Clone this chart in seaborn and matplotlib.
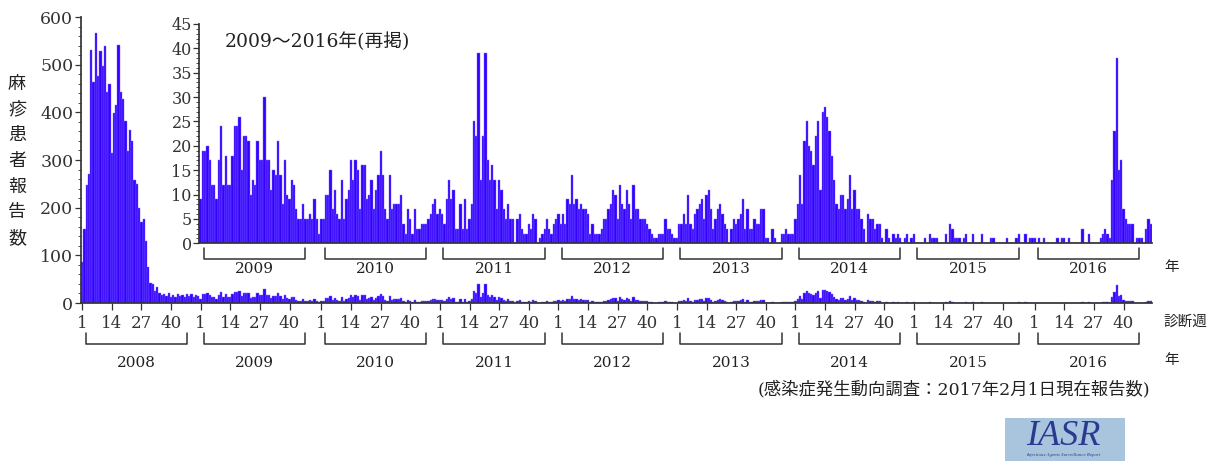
"""Weekly measles reports 2008-2016 with a 2009-2016 inset."""

import numpy as np
import pandas as pd
import matplotlib
matplotlib.use("Agg")
import matplotlib.pyplot as plt
from matplotlib.patches import Rectangle
from matplotlib.ticker import MultipleLocator
import seaborn as sns

# weekly report counts
years = [2008, 2009, 2010, 2011, 2012, 2013, 2014, 2015, 2016]
w2008 = [86, 156, 247, 270, 530, 464, 567, 476, 529, 498,
         540, 442, 460, 315, 399, 415, 542, 443, 429, 382,
         319, 362, 339, 259, 249, 199, 169, 176, 131, 75,
         43, 40, 25, 34, 20, 16, 18, 15, 20, 12,
         17, 12, 18, 14, 17, 12, 18, 14, 18, 13,
         16, 14]
w2009 = [9, 19, 19, 20, 17, 12, 12, 9, 17, 24,
         12, 18, 12, 12, 18, 24, 24, 26, 15, 22,
         22, 21, 10, 13, 12, 21, 17, 17, 30, 17,
         17, 11, 15, 14, 21, 14, 8, 17, 10, 9,
         13, 12, 7, 5, 5, 8, 5, 5, 6, 5,
         9, 5, 2]
w2010 = [5, 5, 10, 10, 15, 7, 11, 6, 5, 13,
         5, 9, 11, 17, 13, 17, 15, 7, 16, 16,
         9, 10, 13, 7, 11, 14, 19, 14, 7, 5,
         14, 7, 8, 8, 8, 10, 4, 2, 7, 5,
         2, 7, 3, 3, 4, 4, 4, 5, 6, 8,
         9, 6]
w2011 = [7, 6, 4, 9, 13, 9, 11, 3, 3, 8,
         3, 9, 3, 5, 8, 25, 22, 39, 13, 22,
         39, 17, 13, 16, 13, 7, 13, 11, 7, 5,
         8, 5, 5, 0, 5, 6, 3, 2, 2, 4,
         3, 6, 5, 0, 1, 2, 3, 5, 3, 2,
         4, 5]
w2012 = [6, 4, 6, 4, 9, 8, 14, 8, 9, 7,
         8, 7, 7, 6, 2, 4, 2, 2, 2, 3,
         5, 5, 7, 8, 11, 10, 5, 12, 8, 7,
         11, 8, 5, 12, 7, 7, 5, 5, 5, 4,
         3, 2, 1, 1, 2, 2, 2, 5, 3, 3,
         2, 1]
w2013 = [1, 4, 4, 6, 4, 10, 4, 3, 6, 7,
         8, 9, 5, 10, 11, 7, 3, 5, 7, 8,
         6, 4, 3, 0, 3, 5, 4, 5, 6, 9,
         3, 7, 3, 3, 5, 4, 4, 7, 7, 1,
         1, 0, 3, 1, 0, 0, 2, 2, 3, 2,
         2, 2]
w2014 = [5, 8, 14, 8, 21, 25, 20, 19, 16, 22,
         25, 11, 27, 28, 26, 23, 18, 13, 8, 7,
         10, 10, 7, 9, 14, 7, 11, 7, 7, 5,
         3, 0, 6, 5, 5, 3, 4, 4, 1, 0,
         3, 1, 0, 2, 1, 2, 1, 0, 1, 2,
         0, 1]
w2015 = [2, 0, 0, 0, 0, 1, 0, 2, 1, 1,
         1, 0, 0, 0, 2, 0, 4, 3, 1, 1,
         1, 0, 1, 2, 0, 0, 2, 0, 0, 0,
         2, 0, 0, 0, 1, 1, 0, 0, 0, 0,
         0, 1, 0, 0, 0, 1, 2, 0, 0, 2,
         0, 1, 1]
w2016 = [1, 0, 1, 0, 1, 0, 0, 0, 0, 0,
         1, 0, 1, 1, 0, 1, 0, 0, 0, 0,
         0, 3, 0, 0, 2, 0, 0, 0, 0, 1,
         2, 3, 2, 1, 13, 23, 38, 15, 17, 7,
         5, 4, 4, 4, 0, 1, 1, 1, 0, 3,
         5, 4]
weekly = [w2008, w2009, w2010, w2011, w2012, w2013, w2014, w2015, w2016]
week_ticks = [1, 14, 27, 40]

BAR = "#3600ff"
EDGE = "#7a6cff"
INK = "#333333"

sns.set_theme(style="ticks")
plt.rcParams["font.family"] = ["DejaVu Serif", "Noto Sans CJK JP"]
plt.rcParams["axes.edgecolor"] = INK
plt.rcParams["xtick.color"] = INK
plt.rcParams["ytick.color"] = INK
plt.rcParams["text.color"] = "#222222"

rows = []
start = {}
idx = 0
for yr, vals in zip(years, weekly):
    start[yr] = idx
    for wk, v in enumerate(vals, 1):
        rows.append({"idx": idx, "year": yr, "week": wk, "count": v})
        idx += 1
df = pd.DataFrame(rows)
n = len(df)

fig = plt.figure(figsize=(12.07, 4.61), dpi=100)
L, B = 81 / 1207, 1 - 303 / 461
W, H = (1152 - 81) / 1207, (303 - 17) / 461
ax = fig.add_axes([L, B, W, H])
sns.barplot(data=df, x="idx", y="count", native_scale=True, width=1.0,
            color=BAR, saturation=1, edgecolor=EDGE, linewidth=0.3,
            errorbar=None, ax=ax)
ax.set_xlim(-0.5, n - 0.5)
ax.set_ylim(0, 600)
ax.set_yticks(range(0, 601, 100))
ax.yaxis.set_minor_locator(MultipleLocator(20))
ticks, labels = [], []
for yr in years:
    for wk in week_ticks:
        ticks.append(start[yr] + wk - 1)
        labels.append(str(wk))
ax.set_xticks(ticks)
ax.set_xticklabels(labels)
ax.tick_params(axis="x", labelsize=12, length=5, width=0.9, pad=4)
ax.tick_params(axis="y", labelsize=12.5, length=4, width=0.9, pad=1.5)
ax.tick_params(axis="y", which="minor", length=2.5, width=0.6)
ax.set_xlabel("")
ax.set_ylabel("")
sns.despine(ax=ax)

tr = ax.get_xaxis_transform()
for yr in years:
    x0 = start[yr] + 1.5
    x1 = start[yr] + 46.0
    ax.plot([x0, x0, x1, x1], [-0.105, -0.143, -0.143, -0.105], color=INK,
            lw=1.1, transform=tr, clip_on=False)
    ax.text((x0 + x1) / 2, -0.21, str(yr), transform=tr,
            ha="center", va="center", fontsize=11)

# inset, aligned with the main chart's years
s09 = start[2009]
ins = fig.add_axes([L + s09 / n * W, 1 - 243.3 / 461,
                    (n - s09) / n * W, (243.3 - 24) / 461])
sns.barplot(data=df[df["year"] >= 2009], x="idx", y="count", native_scale=True,
            width=1.0, color=BAR, saturation=1, edgecolor=EDGE, linewidth=0.3,
            errorbar=None, ax=ins)
ins.set_xlim(s09 - 0.5, n - 0.5)
ins.set_ylim(0, 45)
ins.set_yticks(range(0, 46, 5))
ins.yaxis.set_minor_locator(MultipleLocator(1))
ins.set_xticks([])
ins.tick_params(axis="y", labelsize=11.5, length=4, width=0.9, pad=1.5)
ins.tick_params(axis="y", which="minor", length=2.5, width=0.6)
ins.set_xlabel("")
ins.set_ylabel("")
ins.patch.set_alpha(0)
sns.despine(ax=ins)

tr = ins.get_xaxis_transform()
for yr in years[1:]:
    x0 = start[yr] + 1.5
    x1 = start[yr] + 46.0
    ins.plot([x0, x0, x1, x1], [-0.021, -0.071, -0.071, -0.021], color=INK,
             lw=1.1, transform=tr, clip_on=False)
    ins.text((x0 + x1) / 2, -0.118, str(yr), transform=tr,
             ha="center", va="center", fontsize=11)
ins.text(0.026, 0.92, "2009～2016年(再掲)", transform=ins.transAxes,
         ha="left", va="center", fontsize=13.5)

# labels around the axes
fig.text(17 / 1207, 1 - 161 / 461, "\n".join("麻疹患者報告数"), ha="center",
         va="center", fontsize=13, linespacing=1.55)
fig.text(1185 / 1207, 1 - 322 / 461, "診断週", ha="center", va="center",
         fontsize=10.5)
fig.text(1172 / 1207, 1 - 360 / 461, "年", ha="center", va="center",
         fontsize=10.5)
fig.text(1172 / 1207, 1 - 267 / 461, "年", ha="center", va="center",
         fontsize=10.5)
fig.text(1150 / 1207, 1 - 390 / 461, "(感染症発生動向調査：2017年2月1日現在報告数)",
         ha="right", va="center", fontsize=12.5)

# IASR logo box
fig.patches.append(Rectangle((1005 / 1207, 0), 120 / 1207, 43 / 461,
                             transform=fig.transFigure, facecolor="#a9c5de",
                             edgecolor="none"))
fig.text(1063 / 1207, 1 - 436 / 461, "IASR", ha="center", va="center",
         fontsize=26, style="italic", family="Liberation Serif", color="#2b3990")
fig.text(1063 / 1207, 1 - 455 / 461, "Infectious Agents Surveillance Report",
         ha="center", va="center", fontsize=3.5, style="italic",
         family="Liberation Serif", color="#2b3990")

plt.savefig("out.png", dpi=100)
plt.close()
